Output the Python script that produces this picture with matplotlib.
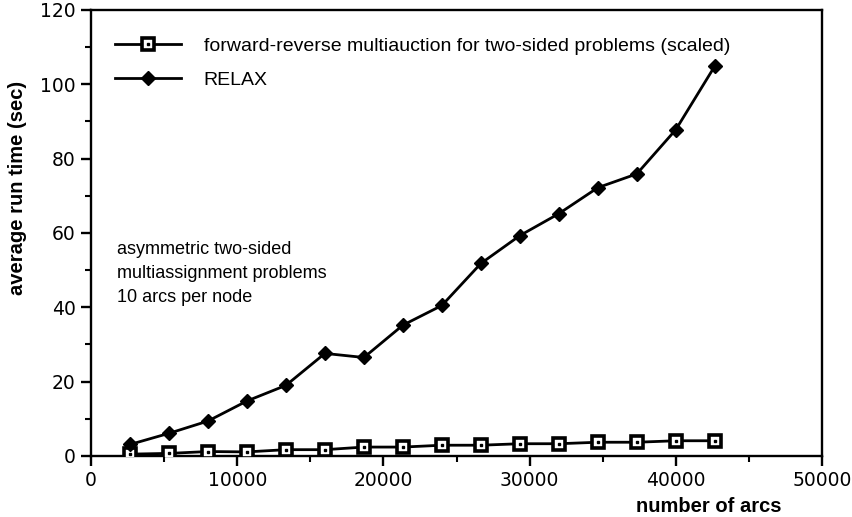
import matplotlib.pyplot as plt
from matplotlib.ticker import MultipleLocator

plt.rcParams['font.family'] = ['Liberation Sans', 'DejaVu Sans']

arcs = [2667, 5333, 8000, 10667, 13333, 16000, 18667, 21333,
        24000, 26667, 29333, 32000, 34667, 37333, 40000, 42667]
relax = [3.1, 6.1, 9.4, 14.8, 19.0, 27.6, 26.5, 35.2,
         40.5, 51.8, 59.3, 65.2, 72.2, 75.9, 87.8, 104.9]
fr_auction = [0.5, 0.7, 1.2, 1.1, 1.7, 1.7, 2.4, 2.4,
              2.9, 2.9, 3.3, 3.3, 3.7, 3.7, 4.1, 4.1]

fig = plt.figure(figsize=(8.52, 5.17), dpi=100)
ax = fig.add_axes([0.1068, 0.118, 0.858, 0.8627])

sq, = ax.plot(arcs, fr_auction, color='black', lw=2.0, marker='s', ms=8,
              mfc='white', mec='black', mew=2.6, zorder=3)
dot, = ax.plot(arcs, fr_auction, ls='none', marker='s', ms=1.8,
               color='black', zorder=4)
rl, = ax.plot(arcs, relax, color='black', lw=2.0, marker='D', ms=7.5,
              zorder=3)

ax.set_xlim(0, 50000)
ax.set_ylim(0, 120)
ax.xaxis.set_major_locator(MultipleLocator(10000))
ax.xaxis.set_minor_locator(MultipleLocator(5000))
ax.yaxis.set_major_locator(MultipleLocator(20))
ax.yaxis.set_minor_locator(MultipleLocator(10))
ax.tick_params(which='major', direction='out', length=7, width=1.7,
               labelsize=13.5, pad=4)
ax.tick_params(which='minor', direction='out', length=4, width=1.5)
for lab in ax.get_xticklabels() + ax.get_yticklabels():
    lab.set_family('DejaVu Sans')
for s in ax.spines.values():
    s.set_linewidth(1.7)

ax.set_xlabel('number of arcs', fontsize=14.5, fontweight='bold')
ax.xaxis.set_label_coords(0.845, -0.093)
ax.set_ylabel('average run time (sec)', fontsize=14.5, fontweight='bold')
ax.yaxis.set_label_coords(-0.088, 0.6)

ax.text(0.036, 0.483, 'asymmetric two-sided\nmultiassignment problems\n10 arcs per node',
        transform=ax.transAxes, fontsize=13, va='top', linespacing=1.55)

ax.legend([(sq, dot), rl],
          ['forward-reverse multiauction for two-sided problems (scaled)', 'RELAX'],
          loc='upper left', bbox_to_anchor=(0.033, 0.938), frameon=False,
          fontsize=14, handlelength=3.4, handletextpad=1.15,
          labelspacing=0.82, borderpad=0, borderaxespad=0)

fig.savefig('out.png', dpi=100)
